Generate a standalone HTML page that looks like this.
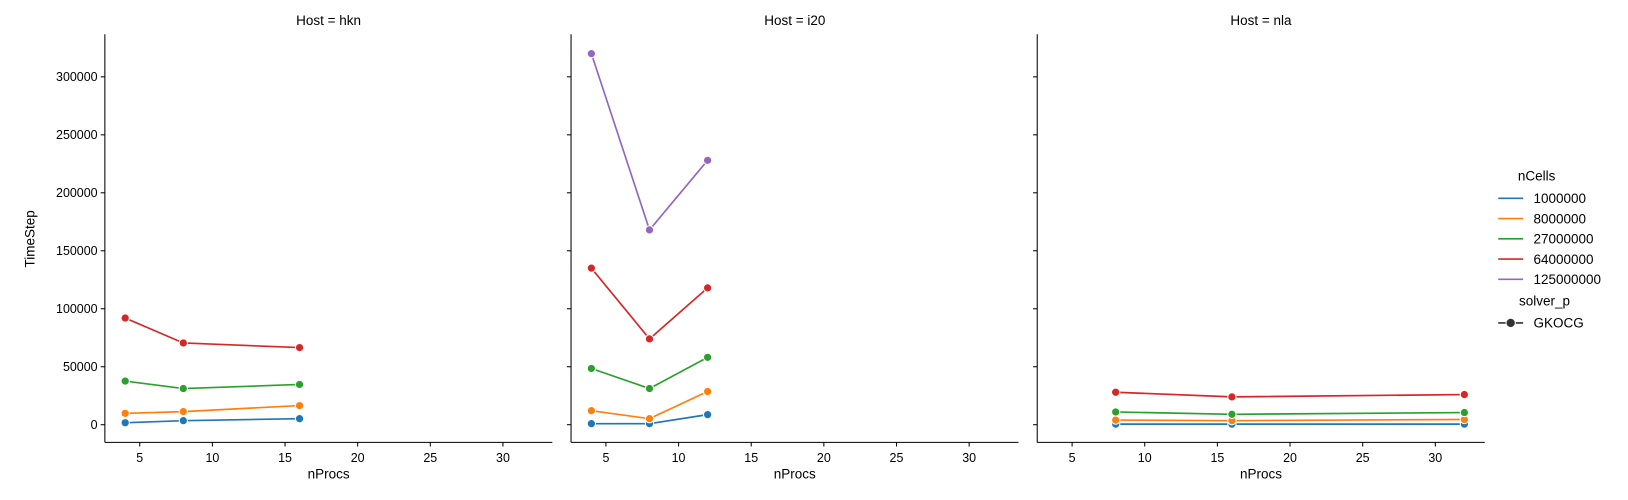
<!DOCTYPE html>
<html><head><meta charset="utf-8"><style>
body{margin:0;background:#fff;font-family:"Liberation Sans","DejaVu Sans",sans-serif;overflow:hidden;}
svg{display:block;}
svg text{font-family:"Liberation Sans","DejaVu Sans",sans-serif;}
</style></head><body>
<svg id="chart" width="1628" height="500" viewBox="0 0 1568 481.5" preserveAspectRatio="none" xmlns="http://www.w3.org/2000/svg"></svg>
<script>
const hosts=["hkn","i20","nla"];
const seriesNames=["1000000","8000000","27000000","64000000","125000000"];
const colors=["#1f77b4","#ff7f0e","#2ca02c","#d62728","#9467bd"];
const procsHkn=[4,8,16];
const procsI20=[4,8,12];
const procsNla=[8,16,32];
const hkn1=[1700,3500,5200],hkn8=[9800,11300,16500],hkn27=[37600,31200,34700],hkn64=[92000,70500,66500];
const i201=[900,900,8700],i208=[12100,5200,28600],i2027=[48500,31200,58100],i2064=[135000,74000,118000],i20125=[320000,168000,228000];
const nla1=[500,500,500],nla8=[4000,3500,4500],nla27=[11000,9000,10500],nla64=[28000,24000,26000];
const xTicks=[5,10,15,20,25,30];
const yTicks=[0,50000,100000,150000,200000,250000,300000];
const panelData=[
 {procs:procsHkn,series:[hkn1,hkn8,hkn27,hkn64]},
 {procs:procsI20,series:[i201,i208,i2027,i2064,i20125]},
 {procs:procsNla,series:[nla1,nla8,nla27,nla64]}];
const svg=document.getElementById('chart');
const NS="http://www.w3.org/2000/svg";
function mk(t,a,p){const e=document.createElementNS(NS,t);for(const k in a)e.setAttribute(k,a[k]);(p||svg).appendChild(e);return e;}
const panelLeft=[101,550,999],pw=431,plotTop=33,plotBottom=426;
const xmin=2.6,xmax=33.4,ymin=-15224,ymax=336716;
function ys(v){return plotBottom-(v-ymin)/(ymax-ymin)*(plotBottom-plotTop);}
hosts.forEach((h,pi)=>{
 const L=panelLeft[pi];
 const xs=v=>L+(v-xmin)/(xmax-xmin)*pw;
 const g=mk('g',{});
 
 
 const t=mk('text',{x:L+pw/2,y:24,'text-anchor':'middle','font-size':13},g);t.textContent='Host = '+h;
 
 
 mk('line',{x1:L,y1:plotTop,x2:L,y2:plotBottom,stroke:'#000','stroke-width':1},g);
 mk('line',{x1:L,y1:plotBottom,x2:L+pw,y2:plotBottom,stroke:'#000','stroke-width':1},g);
 xTicks.forEach(v=>{const x=xs(v);mk('line',{x1:x,y1:plotBottom,x2:x,y2:plotBottom+4,stroke:'#000'},g);
  const tt=mk('text',{x:x,y:plotBottom+19,'text-anchor':'middle','font-size':12},g);tt.textContent=v;
  
  });
 yTicks.forEach(v=>{const y=ys(v);mk('line',{x1:L-4,y1:y,x2:L,y2:y,stroke:'#000'},g);
  if(pi===0){const tt=mk('text',{x:L-7,y:y+4,'text-anchor':'end','font-size':12},g);tt.textContent=v;
  
  }});
 const xl=mk('text',{x:L+pw/2,y:plotBottom+35,'text-anchor':'middle','font-size':13},g);xl.textContent='nProcs';
 
 
 const pd=panelData[pi];
 pd.series.forEach((s,si)=>{
  const pts=s.map((v,i)=>xs(pd.procs[i])+','+ys(v)).join(' ');
  const pl=mk('polyline',{points:pts,fill:'none',stroke:colors[si],'stroke-width':1.6},g);
  
  
  s.forEach((v,i)=>{const c=mk('circle',{cx:xs(pd.procs[i]),cy:ys(v),r:4,fill:colors[si],stroke:'#fff','stroke-width':1},g);
   
   });
 });
});
const yl=mk('text',{x:33,y:230,'text-anchor':'middle','font-size':13,transform:'rotate(-90 33 230)'});yl.textContent='TimeStep';


const lg=mk('g',{});


let t0=mk('text',{x:1462,y:174,'font-size':13},lg);t0.textContent='nCells';
seriesNames.forEach((n,i)=>{const y=191+i*19.5;
 mk('line',{x1:1443,y1:y,x2:1467,y2:y,stroke:colors[i],'stroke-width':1.6},lg);
 const tt=mk('text',{x:1477,y:y+4.5,'font-size':13},lg);tt.textContent=n;
 
 });
let t1=mk('text',{x:1463,y:294,'font-size':13},lg);t1.textContent='solver_p';
mk('line',{x1:1443,y1:311,x2:1467,y2:311,stroke:'#333','stroke-width':1.6},lg);
mk('circle',{cx:1455,cy:311,r:4.5,fill:'#333',stroke:'#fff','stroke-width':1},lg);
let t2=mk('text',{x:1477,y:315.5,'font-size':13},lg);t2.textContent='GKOCG';
</script>
</body></html>
